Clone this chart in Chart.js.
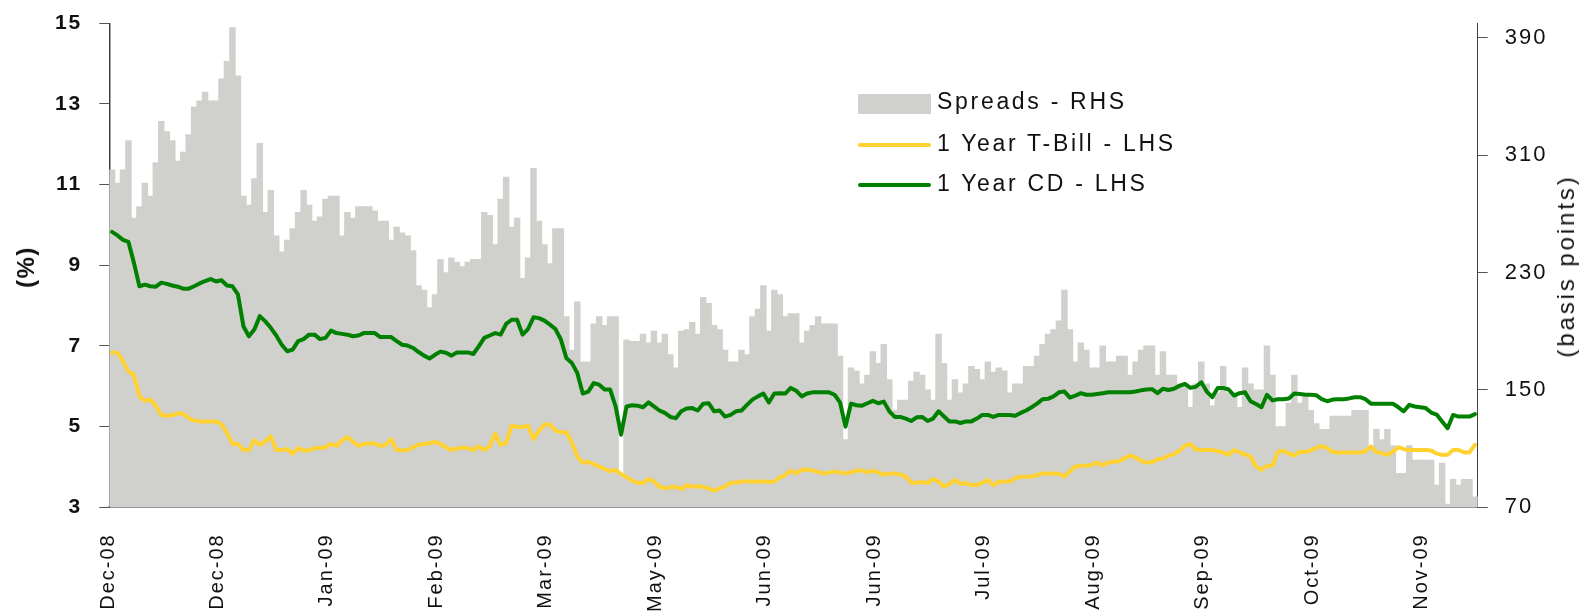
<!DOCTYPE html>
<html>
<head>
<meta charset="utf-8">
<title>Spreads, 1 Year T-Bill and 1 Year CD</title>
<script src="https://cdn.jsdelivr.net/npm/chart.js@4.4.1/dist/chart.umd.min.js"></script>
<style>
  html, body { margin: 0; padding: 0; background: #fff; }
  #wrap { position: relative; width: 1589px; height: 613px; font-family: 'Liberation Sans', Arial, sans-serif; color: #111; }
  #the-chart { position: absolute; left: 0; top: 0; }
  .axis-title { position: absolute; white-space: nowrap; line-height: 1; transform: translate(-50%, -50%) rotate(-90deg); pointer-events: none; }
  .legend-text { position: absolute; left: 937px; font-size: 23px; line-height: 23px; letter-spacing: 2.7px; white-space: nowrap; pointer-events: none; }
  .legend-mark { position: absolute; left: 858px; width: 73px; pointer-events: none; }
</style>
</head>
<body>
<div id="wrap">
  <canvas id="the-chart" width="1589" height="613"></canvas>

  <div class="axis-title" style="left: 26px; top: 267px; font-size: 24px; font-weight: bold; letter-spacing: 1.5px;">(%)</div>
  <div class="axis-title" style="left: 1566px; top: 266px; font-size: 24px; letter-spacing: 2.9px;">(basis points)</div>

  <div class="legend-mark" style="top: 94px; height: 20px; background: #d0d0cc;"></div>
  <div class="legend-mark" style="top: 142.5px; height: 4.5px; border-radius: 2px; background: #ffd232;"></div>
  <div class="legend-mark" style="top: 182.5px; height: 4.5px; border-radius: 2px; background: #008000;"></div>
  <div class="legend-text" style="top: 90px;">Spreads - RHS</div>
  <div class="legend-text" style="top: 131.5px;">1 Year T-Bill - LHS</div>
  <div class="legend-text" style="top: 171.5px;">1 Year CD - LHS</div>
</div>

<script>
//
// Spreads (RHS, basis points) against 1 Year T-Bill and 1 Year CD rates (LHS, %)
//

const tickLabels = ['Dec-08', 'Dec-08', 'Jan-09', 'Feb-09', 'Mar-09', 'May-09', 'Jun-09',
  'Jun-09', 'Jul-09', 'Aug-09', 'Sep-09', 'Oct-09', 'Nov-09'];
const labelEvery = 20;

const lhsTicks = [3, 5, 7, 9, 11, 13, 15];
const rhsTicks = [70, 150, 230, 310, 390];

// Spreads, basis points (one value per trading day)
const spreads = [
  300, 291, 300, 320, 267, 275, 291, 282, 305, 333, 326, 320, 306, 312, 324, 343, 347, 353, 347, 347,
  362, 374, 397, 364, 282, 276, 294, 318, 271, 286, 255, 244, 252, 260, 271, 286, 276, 265, 268, 280,
  282, 282, 255, 271, 267, 275, 275, 275, 272, 265, 265, 252, 261, 257, 255, 245, 221, 218, 206, 215,
  239, 230, 240, 237, 234, 237, 239, 239, 271, 269, 249, 280, 295, 261, 267, 226, 240, 301, 265, 249,
  236, 260, 260, 200, 177, 210, 169, 169, 195, 200, 194, 200, 200, 93, 184, 183, 183, 188, 182, 190,
  182, 188, 174, 165, 190, 191, 196, 188, 213, 209, 194, 191, 177, 169, 169, 177, 174, 200, 205, 221,
  190, 218, 215, 200, 202, 202, 182, 190, 194, 200, 195, 195, 195, 173, 116, 165, 163, 154, 160, 176,
  168, 181, 157, 136, 143, 143, 156, 162, 160, 150, 143, 188, 168, 143, 157, 148, 154, 166, 164, 157,
  169, 162, 165, 163, 148, 154, 154, 166, 166, 173, 181, 188, 191, 197, 218, 191, 169, 182, 177, 165,
  165, 180, 169, 169, 173, 173, 160, 169, 177, 180, 180, 160, 176, 160, 160, 154, 154, 138, 154, 169,
  154, 139, 148, 166, 148, 148, 138, 165, 154, 150, 150, 180, 160, 125, 125, 141, 160, 141, 145, 136,
  127, 123, 123, 132, 132, 132, 132, 136, 136, 136, 109, 123, 116, 123, 112, 93, 93, 112, 102, 102,
  102, 102, 85, 100, 72, 89, 85, 89, 89, 77
];

// 1 Year T-Bill, %
const tbill = [
  6.84, 6.83, 6.62, 6.37, 6.28, 5.75, 5.64, 5.67, 5.52, 5.29, 5.27, 5.28, 5.33, 5.32, 5.21, 5.15, 5.13, 5.13, 5.13, 5.13,
  5.06, 4.84, 4.57, 4.57, 4.42, 4.42, 4.66, 4.55, 4.63, 4.76, 4.42, 4.42, 4.44, 4.33, 4.47, 4.41, 4.41, 4.47, 4.47, 4.49,
  4.57, 4.52, 4.66, 4.74, 4.63, 4.52, 4.57, 4.58, 4.59, 4.52, 4.55, 4.69, 4.42, 4.41, 4.42, 4.49, 4.55, 4.57, 4.59, 4.62,
  4.57, 4.49, 4.42, 4.46, 4.48, 4.47, 4.42, 4.51, 4.42, 4.51, 4.82, 4.55, 4.59, 5.02, 4.99, 4.99, 5.02, 4.69, 4.90, 5.05,
  5.05, 4.90, 4.86, 4.86, 4.61, 4.26, 4.11, 4.13, 4.07, 4.01, 3.95, 3.89, 3.93, 3.82, 3.75, 3.66, 3.61, 3.60, 3.70, 3.64,
  3.51, 3.47, 3.50, 3.51, 3.45, 3.55, 3.51, 3.53, 3.50, 3.47, 3.41, 3.47, 3.51, 3.61, 3.61, 3.64, 3.64, 3.64, 3.64, 3.64,
  3.63, 3.64, 3.74, 3.80, 3.91, 3.84, 3.93, 3.93, 3.91, 3.88, 3.84, 3.86, 3.89, 3.86, 3.84, 3.87, 3.91, 3.91, 3.87, 3.91,
  3.86, 3.81, 3.83, 3.84, 3.81, 3.76, 3.61, 3.61, 3.63, 3.60, 3.70, 3.64, 3.51, 3.58, 3.68, 3.58, 3.60, 3.55, 3.55, 3.61,
  3.68, 3.55, 3.63, 3.64, 3.64, 3.72, 3.76, 3.76, 3.76, 3.80, 3.84, 3.84, 3.84, 3.83, 3.76, 3.89, 4.01, 4.03, 4.03, 4.05,
  4.11, 4.04, 4.11, 4.13, 4.14, 4.22, 4.28, 4.24, 4.15, 4.11, 4.12, 4.19, 4.21, 4.28, 4.32, 4.40, 4.53, 4.57, 4.44, 4.42,
  4.42, 4.42, 4.39, 4.36, 4.30, 4.42, 4.36, 4.31, 4.26, 4.01, 3.93, 4.03, 4.03, 4.38, 4.40, 4.33, 4.28, 4.38, 4.37, 4.41,
  4.47, 4.52, 4.47, 4.37, 4.36, 4.36, 4.36, 4.36, 4.36, 4.39, 4.51, 4.37, 4.34, 4.30, 4.38, 4.49, 4.44, 4.42, 4.42, 4.42,
  4.42, 4.41, 4.33, 4.30, 4.30, 4.42, 4.42, 4.36, 4.36, 4.55
];

// 1 Year CD, %
const cd = [
  9.83, 9.74, 9.63, 9.58, 9.06, 8.48, 8.52, 8.48, 8.47, 8.57, 8.54, 8.50, 8.47, 8.42, 8.42, 8.48, 8.55, 8.61, 8.66, 8.60,
  8.63, 8.50, 8.48, 8.28, 7.49, 7.24, 7.41, 7.74, 7.61, 7.45, 7.26, 7.03, 6.87, 6.91, 7.12, 7.17, 7.28, 7.28, 7.17, 7.20,
  7.38, 7.32, 7.30, 7.28, 7.24, 7.26, 7.32, 7.32, 7.32, 7.22, 7.22, 7.22, 7.12, 7.03, 7.01, 6.95, 6.85, 6.76, 6.69, 6.78,
  6.86, 6.83, 6.76, 6.84, 6.84, 6.84, 6.80, 6.99, 7.20, 7.26, 7.32, 7.28, 7.55, 7.65, 7.65, 7.28, 7.42, 7.71, 7.69, 7.63,
  7.53, 7.42, 7.16, 6.70, 6.58, 6.33, 5.82, 5.87, 6.08, 6.04, 5.92, 5.92, 5.50, 4.80, 5.50, 5.53, 5.52, 5.48, 5.60, 5.50,
  5.40, 5.34, 5.24, 5.21, 5.38, 5.45, 5.46, 5.40, 5.57, 5.58, 5.38, 5.40, 5.25, 5.29, 5.38, 5.40, 5.54, 5.67, 5.75, 5.82,
  5.60, 5.82, 5.83, 5.82, 5.96, 5.89, 5.75, 5.82, 5.85, 5.85, 5.85, 5.85, 5.79, 5.60, 5.00, 5.57, 5.53, 5.52, 5.58, 5.64,
  5.58, 5.62, 5.38, 5.24, 5.24, 5.20, 5.14, 5.23, 5.24, 5.14, 5.20, 5.38, 5.25, 5.13, 5.13, 5.09, 5.13, 5.13, 5.20, 5.29,
  5.29, 5.24, 5.29, 5.29, 5.29, 5.27, 5.34, 5.40, 5.48, 5.57, 5.68, 5.69, 5.75, 5.85, 5.87, 5.72, 5.77, 5.83, 5.79, 5.79,
  5.81, 5.83, 5.85, 5.85, 5.85, 5.85, 5.85, 5.87, 5.90, 5.92, 5.93, 5.83, 5.94, 5.91, 5.94, 6.01, 6.06, 5.96, 5.99, 6.10,
  5.87, 5.73, 5.96, 5.96, 5.92, 5.77, 5.83, 5.85, 5.63, 5.56, 5.48, 5.79, 5.65, 5.68, 5.68, 5.70, 5.82, 5.81, 5.79, 5.79,
  5.78, 5.68, 5.63, 5.67, 5.68, 5.68, 5.70, 5.73, 5.73, 5.68, 5.57, 5.57, 5.57, 5.57, 5.57, 5.48, 5.38, 5.54, 5.50, 5.48,
  5.46, 5.35, 5.30, 5.13, 4.96, 5.29, 5.25, 5.25, 5.25, 5.31
];

// One category per trading day, labelled every 20th day.
const categories = spreads.map((_, i) => (i % labelEvery === 0 ? tickLabels[i / labelEvery] : ''));

const grey = '#d0d0cc';
const yellow = '#ffd232';
const green = '#008000';
const fontFamily = "'Liberation Sans', Arial, sans-serif";

// Plot area edges, in canvas pixels.
const plotLeft = 109.3;
const plotRight = 1477.7;
const plotTop = 23.3;
const plotBottom = 507.3;

// The source chart uses loosely spaced lettering on its axis labels.
const letterSpacingPlugin = {
  id: 'letterSpacing',
  beforeUpdate(chart) { chart.ctx.letterSpacing = '2px'; },
  beforeDraw(chart) { chart.ctx.letterSpacing = '2px'; }
};

let theChart = {};

function drawChart() {
  const ctx = document.getElementById('the-chart');
  theChart = new Chart(ctx, {
    data: {
      labels: categories,
      datasets: [
        {
          type: 'line',
          label: '1 Year CD - LHS',
          data: cd,
          yAxisID: 'y',
          borderColor: green,
          backgroundColor: green,
          borderWidth: 4,
          borderJoinStyle: 'round',
          borderCapStyle: 'round',
          pointRadius: 0,
          tension: 0,
          order: 1
        },
        {
          type: 'line',
          label: '1 Year T-Bill - LHS',
          data: tbill,
          yAxisID: 'y',
          borderColor: yellow,
          backgroundColor: yellow,
          borderWidth: 4,
          borderJoinStyle: 'round',
          borderCapStyle: 'round',
          pointRadius: 0,
          tension: 0,
          order: 2
        },
        {
          type: 'bar',
          label: 'Spreads - RHS',
          data: spreads,
          yAxisID: 'y2',
          backgroundColor: grey,
          borderWidth: 0,
          barPercentage: 1,
          categoryPercentage: 1,
          inflateAmount: 0.5,
          order: 3
        }
      ]
    },
    options: {
      responsive: false,
      animation: false,
      devicePixelRatio: 1,
      layout: { padding: { top: plotTop, left: 0, right: 0, bottom: 0 } },
      plugins: {
        legend: { display: false },
        tooltip: { enabled: false }
      },
      scales: {
        x: {
          type: 'category',
          offset: true,
          z: 1,
          grid: { display: true, drawOnChartArea: false, drawTicks: false },
          border: { display: true, color: '#7f7f7f', width: 2 },
          ticks: {
            autoSkip: false,
            minRotation: 90,
            maxRotation: 90,
            padding: 26,
            labelOffset: -4,
            color: '#111',
            font: { family: fontFamily, size: 20 }
          },
          afterFit: (scale) => {
            scale.height = 613 - plotBottom;
            scale.paddingLeft = 0;
            scale.paddingRight = 0;
          }
        },
        y: {
          type: 'linear',
          position: 'left',
          min: 3,
          max: 15,
          z: 1,
          afterBuildTicks: (axis) => { axis.ticks = lhsTicks.map((v) => ({ value: v })); },
          grid: { drawOnChartArea: false, drawTicks: true, tickLength: 10, color: '#555', lineWidth: 1 },
          border: { display: true, color: '#404040', width: 1.5 },
          ticks: {
            padding: 17,
            color: '#111',
            font: { family: fontFamily, size: 21, weight: 'bold' }
          },
          afterFit: (scale) => {
            scale.width = plotLeft;
            scale.paddingTop = 0;
            scale.paddingBottom = 0;
          }
        },
        y2: {
          type: 'linear',
          position: 'right',
          min: 70,
          max: 400,
          z: 1,
          afterBuildTicks: (axis) => { axis.ticks = rhsTicks.map((v) => ({ value: v })); },
          grid: { drawOnChartArea: false, drawTicks: true, tickLength: 10, color: '#555', lineWidth: 1 },
          border: { display: true, color: '#404040', width: 1 },
          ticks: {
            padding: 17,
            color: '#111',
            font: { family: fontFamily, size: 22 }
          },
          afterFit: (scale) => {
            scale.width = 1589 - plotRight;
            scale.paddingTop = 0;
            scale.paddingBottom = 0;
          }
        }
      }
    },
    plugins: [letterSpacingPlugin]
  });
}

drawChart();
</script>
</body>
</html>
